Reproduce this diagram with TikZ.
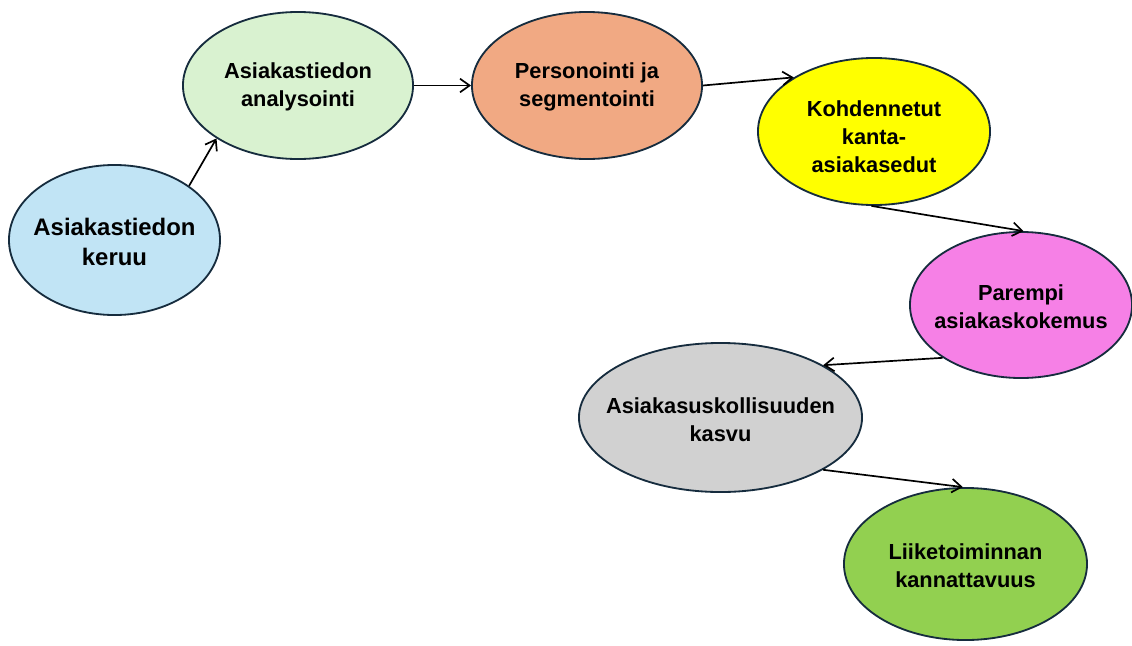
\documentclass[tikz,border=0pt]{standalone}
\usepackage{fontspec}
\setmainfont{Liberation Sans}
\usepackage{xcolor}
\usetikzlibrary{shapes.geometric,arrows.meta}

\definecolor{edgeblue}{RGB}{22,44,62}
\definecolor{keruufill}{RGB}{193,228,245}
\definecolor{analyysifill}{RGB}{217,242,208}
\definecolor{personfill}{RGB}{241,169,131}
\definecolor{etufill}{RGB}{255,255,0}
\definecolor{kokemusfill}{RGB}{246,128,230}
\definecolor{kasvufill}{RGB}{209,209,209}
\definecolor{tulosfill}{RGB}{146,208,80}

% text box with no width, so the ellipse size comes from minimum width/height
\newcommand{\btext}[2][-3pt]{\makebox[0pt]{\raisebox{#1}[\height][\depth]{\begin{tabular}{@{}c@{}}#2\end{tabular}}}}

\tikzset{
  bubble/.style={ellipse, draw=edgeblue, line width=1.3pt, inner sep=0pt,
    font=\bfseries\fontsize{15.5}{20}\selectfont},
  flow/.style={-{Straight Barb[length=2.4mm,width=3.4mm]}, line width=1.2pt, black}
}

\begin{document}
\begin{tikzpicture}[x=0.025cm, y=-0.025cm]
    \useasboundingbox (0,0) rectangle (1132,645);

    % Ellipses
    \node[bubble, fill=keruufill, minimum width=5.275cm, minimum height=3.75cm,
      font=\bfseries\fontsize{17}{21.5}\selectfont] (keruu) at (114.5,240) {\btext{Asiakastiedon\\keruu}};
    \node[bubble, fill=analyysifill, minimum width=5.75cm, minimum height=3.675cm] (analyysi) at (298,85.5) {\btext[-1pt]{Asiakastiedon\\analysointi}};
    \node[bubble, fill=personfill, minimum width=5.75cm, minimum height=3.675cm] (person) at (587,85.5) {\btext[-1pt]{Personointi ja\\segmentointi}};
    \node[bubble, fill=etufill, minimum width=5.8cm, minimum height=3.675cm] (edut) at (874,131.5) {\btext[-5pt]{Kohdennetut\\kanta-\\asiakasedut}};
    \node[bubble, fill=kokemusfill, minimum width=5.55cm, minimum height=3.65cm] (kokemus) at (1021,305) {\btext{Parempi\\asiakaskokemus}};
    \node[bubble, fill=kasvufill, minimum width=7.075cm, minimum height=3.725cm] (kasvu) at (720.5,417.5) {\btext{Asiakasuskollisuuden\\kasvu}};
    \node[bubble, fill=tulosfill, minimum width=6.075cm, minimum height=3.8cm] (tulos) at (965.5,564) {\btext{Liiketoiminnan\\kannattavuus}};

    % Arrows
    \draw[flow] (keruu.36) -- (analyysi.213);
    \draw[flow] (analyysi) -- (person);
    \draw[flow] (person.0) -- (edut.146);
    \draw[flow] (edut.268) -- (kokemus.88);
    \draw[flow] (kokemus.214) -- (kasvu.27);
    \draw[flow] (kasvu.333) -- (tulos.92);
\end{tikzpicture}
\end{document}
